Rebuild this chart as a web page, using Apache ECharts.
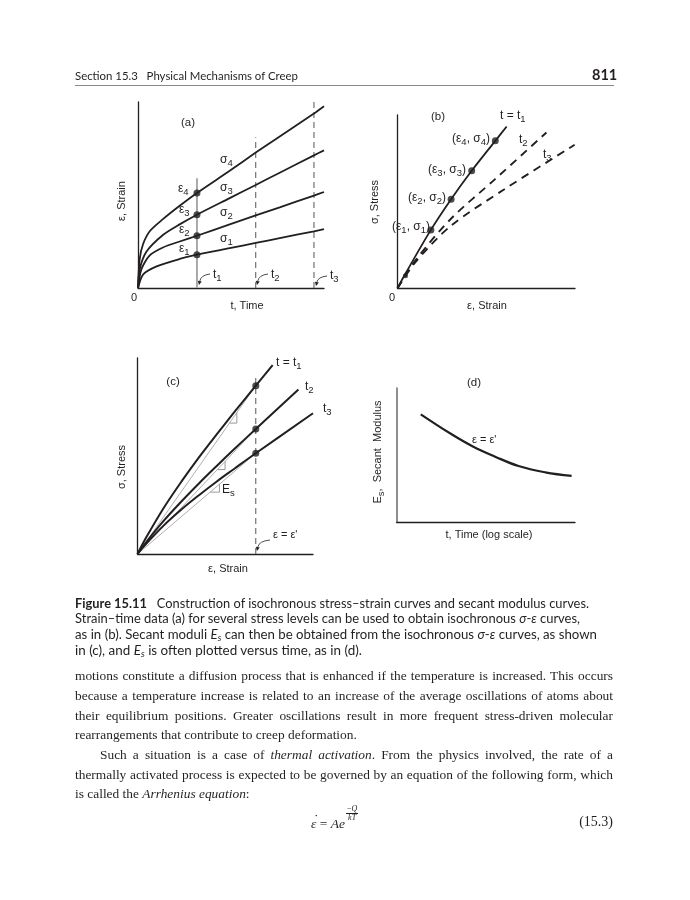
<!DOCTYPE html>
<html>
<head>
<meta charset="utf-8">
<script src="https://cdn.jsdelivr.net/npm/echarts@6/dist/echarts.min.js"></script>
<style>
html,body{margin:0;padding:0;background:#fff;width:690px;height:900px;overflow:hidden}
#chart{position:absolute;left:0;top:0;width:690px;height:900px}
.t{position:absolute;white-space:nowrap;color:#231f20;transform-origin:0 50%}
.sans{font-family:Lato,'Liberation Sans',Arial,sans-serif}
.serif{font-family:'Liberation Serif','Times New Roman',serif}
.cap{font-size:12.5px;line-height:15px}
.body{font-size:13.4px;line-height:18px}
.frac{display:inline-block;vertical-align:8px;font-size:8px;line-height:8px;text-align:center;margin-left:1px}
.frac span{display:block}
.frac .num{border-bottom:0.6px solid #231f20;padding:0 1px}
.edot{position:relative;display:inline-block}
.edot::after{content:'\02D9';position:absolute;left:3px;top:-5px;font-style:normal}
sub{font-size:70%;vertical-align:-2px}
</style>
</head>
<body>
<div id="chart"></div>

<div class="t sans" style="left:75px;top:69px;font-size:11.4px">Section 15.3&nbsp;&nbsp;&nbsp;Physical Mechanisms of Creep</div>
<div class="t sans" style="left:592px;top:66px;font-size:14.5px;font-weight:bold">811</div>
<div style="position:absolute;left:75px;top:85px;width:539px;height:1px;background:#8a8a8a"></div>

<div class="t sans cap fit" data-w="514" style="left:75px;top:596px"><b>Figure 15.11</b>&nbsp;&nbsp;&nbsp;Construction of isochronous stress–strain curves and secant modulus curves.</div>
<div class="t sans cap fit" data-w="505" style="left:75px;top:611px">Strain–time data (a) for several stress levels can be used to obtain isochronous <i>σ</i>-<i>ε</i> curves,</div>
<div class="t sans cap fit" data-w="522" style="left:75px;top:627px">as in (b). Secant moduli <i>E<sub>s</sub></i> can then be obtained from the isochronous <i>σ</i>-<i>ε</i> curves, as shown</div>
<div class="t sans cap fit" data-w="287" style="left:75px;top:643px">in (c), and <i>E<sub>s</sub></i> is often plotted versus time, as in (d).</div>

<div class="t serif body just" data-w="538" style="left:75px;top:667px">motions constitute a diffusion process that is enhanced if the temperature is increased. This occurs</div>
<div class="t serif body just" data-w="538" style="left:75px;top:687px">because a temperature increase is related to an increase of the average oscillations of atoms about</div>
<div class="t serif body just" data-w="538" style="left:75px;top:706.5px">their equilibrium positions. Greater oscillations result in more frequent stress-driven molecular</div>
<div class="t serif body" style="left:75px;top:726px">rearrangements that contribute to creep deformation.</div>
<div class="t serif body just" data-w="513" style="left:100px;top:746px">Such a situation is a case of <i>thermal activation</i>. From the physics involved, the rate of a</div>
<div class="t serif body just" data-w="538" style="left:75px;top:765.5px">thermally activated process is expected to be governed by an equation of the following form, which</div>
<div class="t serif body" style="left:75px;top:785px">is called the <i>Arrhenius equation</i>:</div>

<div class="t serif" style="left:311px;top:805px;font-size:13.5px;line-height:18px"><i class="edot">ε</i> = <i>Ae</i><span class="frac"><span class="num">−<i>Q</i></span><span><i>kT</i></span></span></div>
<div class="t serif" style="left:567px;top:813px;width:46px;text-align:right;font-size:14px;line-height:18px">(15.3)</div>

<script>
// ---------- Panel (a): strain vs time at four stress levels ----------
const timeA_s1   = [0, 0.27, 1.0, 2.24, 3.17, 4.93, 6.33, 7.62, 9.46, 10];
const strainA_s1 = [0, 0.72, 1.16, 1.56, 1.79, 2.14, 2.42, 2.68, 3.05, 3.16];
const timeA_s2   = [0, 0.18, 0.63, 1.34, 2.24, 3.17, 4.93, 6.33, 7.62, 9.46, 10];
const strainA_s2 = [0, 1.0, 1.75, 2.18, 2.5, 2.81, 3.42, 3.9, 4.34, 4.97, 5.16];
const timeA_s3   = [0, 0.09, 0.45, 1.34, 2.24, 3.17, 4.93, 6.33, 7.62, 9.46, 10];
const strainA_s3 = [0, 1.0, 1.95, 2.85, 3.42, 3.94, 4.83, 5.54, 6.2, 7.13, 7.4];
const timeA_s4   = [0, 0.09, 0.27, 0.63, 1.34, 2.24, 3.17, 4.93, 6.33, 7.62, 9.46, 10];
const strainA_s4 = [0, 1.55, 2.35, 3.05, 3.7, 4.42, 5.11, 6.3, 7.28, 8.15, 9.38, 9.77];
const timeMarksA   = [3.17, 6.33, 9.46];          // t1, t2, t3
const timeMarkTopA = [5.9, 8.1, 10];
const strainAtT1   = [1.79, 2.81, 3.94, 5.11];    // eps1..eps4

// ---------- Panel (b): isochronous stress-strain curves ----------
const isoT1_strain = [0, 0.45, 1.88, 3.02, 4.18, 5.51, 6.15];
const isoT1_stress = [0, 0.85, 3.37, 5.14, 6.78, 8.51, 9.34];
const isoT2_strain = [0, 1.0, 3.0, 5.5, 8.39];
const isoT2_stress = [0, 1.6, 4.0, 6.3, 8.99];
const isoT3_strain = [0, 1.0, 3.0, 6.0, 9.98];
const isoT3_stress = [0, 1.5, 3.6, 5.7, 8.28];
const isoPts_strain = [1.88, 3.02, 4.18, 5.51];
const isoPts_stress = [3.37, 5.14, 6.78, 8.51];

// ---------- Panel (c): secant moduli ----------
const secT1_strain = [0, 0.5, 1.5, 2.5, 3.5, 4.5, 5.5, 6.74, 7.7];
const secT1_stress = [0, 0.85, 2.36, 3.69, 4.93, 6.09, 7.22, 8.59, 9.64];
const secT2_strain = [0, 0.5, 1.5, 2.5, 3.5, 4.5, 5.5, 6.74, 9.17];
const secT2_stress = [0, 0.61, 1.70, 2.68, 3.6, 4.48, 5.34, 6.38, 8.39];
const secT3_strain = [0, 0.5, 1.5, 2.5, 3.5, 4.5, 5.5, 6.74, 10];
const secT3_stress = [0, 0.53, 1.46, 2.27, 3.0, 3.69, 4.34, 5.14, 7.18];
const epsPrime = 6.74;
const stressAtEpsPrime = [8.59, 6.38, 5.14];
const epsPrimeTop = 9.05;
const triStart = [5.24, 4.55, 4.14];
const triEnd   = [5.66, 4.99, 4.67];

// ---------- Panel (d): secant modulus vs log time ----------
const modTime = [1.35, 3.08, 4.3, 5.52, 6.83, 8.33, 9.81];
const modEs   = [8.06, 6.57, 5.64, 4.9, 4.2, 3.73, 3.46];

// ---------------------------------------------------------------
const INK = '#231f20';
const GRAY = '#a7a9ac';
const FONT = "'Liberation Sans', Arial, sans-serif";
const pair = (xs, ys) => xs.map((x, i) => [x, ys[i]]);

const grids = [
  {left: 138, top: 102, width: 186, height: 186},
  {left: 397.5, top: 115, width: 177.5, height: 173.3},
  {left: 137.5, top: 358, width: 175.5, height: 196},
  {left: 396.7, top: 388.3, width: 178.3, height: 134}
];
function ax(i, color, w) {
  return {type: 'value', gridIndex: i, min: 0, max: 10, axisLine: {show: true, onZero: false, lineStyle: {color: color || INK, width: w || 1.3}},
    axisTick: {show: false}, axisLabel: {show: false}, splitLine: {show: false}};
}
const xAxis = [ax(0), ax(1), ax(2), ax(3)];
const yAxis = [ax(0), ax(1), ax(2), ax(3, '#8f8f8f', 2)];

const series = [];
function line(i, data, style, extra) {
  series.push(Object.assign({type: 'line', xAxisIndex: i, yAxisIndex: i, data, symbol: 'none', silent: true,
    lineStyle: style, animation: false}, extra || {}));
}
function dots(i, data, size, sym) {
  series.push({type: 'scatter', xAxisIndex: i, yAxisIndex: i, data, symbol: sym || 'circle', symbolSize: size || 7,
    itemStyle: {color: INK}, silent: true, animation: false, z: 5});
}

// (a)
timeMarksA.forEach((t, k) => {
  line(0, [[t, 0], [t, timeMarkTopA[k]]], k === 0 ? {color: GRAY, width: 2} : {color: '#555', width: 1, type: [6, 4]}, {z: 1});
});
[[timeA_s1, strainA_s1], [timeA_s2, strainA_s2], [timeA_s3, strainA_s3], [timeA_s4, strainA_s4]].forEach(([xs, ys]) => {
  line(0, pair(xs, ys), {color: INK, width: 1.8}, {smooth: 0.25, z: 3});
});
dots(0, strainAtT1.map(e => [timeMarksA[0], e]), 7);

// (b)
line(1, pair(isoT1_strain, isoT1_stress), {color: INK, width: 1.8}, {smooth: 0.3, z: 3});
line(1, pair(isoT2_strain, isoT2_stress), {color: INK, width: 1.9, type: [8, 6]}, {smooth: 0.3});
line(1, pair(isoT3_strain, isoT3_stress), {color: INK, width: 1.9, type: [8, 6]}, {smooth: 0.3});
dots(1, pair(isoPts_strain, isoPts_stress), 7);
dots(1, [[0.45, 0.72]], 5);

// (c)
stressAtEpsPrime.forEach((s, k) => {
  line(2, [[0, 0], [epsPrime, s]], {color: '#9a9a9a', width: 0.8}, {z: 1});
  const m = s / epsPrime;
  line(2, [[triStart[k], m * triStart[k]], [triEnd[k], m * triStart[k]], [triEnd[k], m * triEnd[k]]], {color: '#9a9a9a', width: 1}, {z: 1});
});
line(2, [[epsPrime, 0], [epsPrime, epsPrimeTop]], {color: '#555', width: 1, type: [6, 4]}, {z: 1});
[[secT1_strain, secT1_stress], [secT2_strain, secT2_stress], [secT3_strain, secT3_stress]].forEach(([xs, ys]) => {
  line(2, pair(xs, ys), {color: INK, width: 2}, {smooth: 0.35, z: 3});
});
dots(2, stressAtEpsPrime.map(s => [epsPrime, s]), 7);

// (d)
line(3, pair(modTime, modEs), {color: INK, width: 2.2}, {smooth: 0.4, z: 3});

// ---------- text & decorations ----------
const RICH = {
  b: {fontSize: 12, fontFamily: FONT, fill: INK, lineHeight: 17, verticalAlign: 'middle'},
  s: {fontSize: 9.5, fontFamily: FONT, fill: INK, lineHeight: 9, verticalAlign: 'bottom'},
  n: {fontSize: 11, fontFamily: FONT, fill: INK, lineHeight: 17, verticalAlign: 'middle'}
};
const sub = (b, s) => `{b|${b}}{s|${s}}`;
function txt(x, y, text, o) {
  o = o || {};
  return {type: 'text', x, y, rotation: o.rot || 0, silent: true, z: 10,
    style: {text, fill: INK, fontSize: o.size || 11, fontFamily: FONT, align: o.align || 'left', verticalAlign: 'middle', rich: RICH}};
}
function curlyArrow(x1, y1, x2, y2) {
  const cpx = x2 + 2, cpy = y1 + 1;
  const dx = x2 - cpx, dy = y2 - cpy, L = Math.hypot(dx, dy), ux = dx / L, uy = dy / L;
  const s = 4, w = 2;
  const bx = x2 - ux * s, by = y2 - uy * s;
  return [
    {type: 'bezierCurve', silent: true, z: 10, shape: {x1, y1, x2: bx, y2: by, cpx1: cpx, cpy1: cpy}, style: {stroke: INK, lineWidth: 0.8, fill: null}},
    {type: 'polygon', silent: true, z: 10, shape: {points: [[x2, y2], [bx - uy * w, by + ux * w], [bx + uy * w, by - ux * w]]}, style: {fill: INK}}
  ];
}
const graphic = [
  // (a)
  txt(188, 123, '(a)', {align: 'center', size: 11.5}),
  txt(220, 160, sub('σ', '4')), txt(220, 188, sub('σ', '3')), txt(220, 213, sub('σ', '2')), txt(220, 239, sub('σ', '1')),
  txt(178, 189, sub('ε', '4')), txt(179, 210, sub('ε', '3')), txt(179, 230, sub('ε', '2')), txt(179, 249, sub('ε', '1')),
  txt(213, 275, sub('t', '1')), txt(271, 275, sub('t', '2')), txt(330, 276, sub('t', '3')),
  txt(134, 298, '0', {align: 'center'}),
  txt(247, 306, 't, Time', {align: 'center'}),
  txt(122, 201, 'ε, Strain', {align: 'center', rot: Math.PI / 2}),
  ...curlyArrow(210, 274, 199, 285), ...curlyArrow(268, 274, 257, 285), ...curlyArrow(327, 276, 316, 286),
  // (b)
  txt(438, 117, '(b)', {align: 'center', size: 11.5}),
  txt(500, 116, '{b|t = t}{s|1}'),
  txt(519, 140, sub('t', '2')), txt(543, 155, sub('t', '3')),
  txt(490, 139, '{b|(ε}{s|4}{b|, σ}{s|4}{b|)}', {align: 'right'}),
  txt(466, 170, '{b|(ε}{s|3}{b|, σ}{s|3}{b|)}', {align: 'right'}),
  txt(446, 198, '{b|(ε}{s|2}{b|, σ}{s|2}{b|)}', {align: 'right'}),
  txt(430, 227, '{b|(ε}{s|1}{b|, σ}{s|1}{b|)}', {align: 'right'}),
  txt(392, 298, '0', {align: 'center'}),
  txt(487, 306, 'ε, Strain', {align: 'center'}),
  txt(375, 202, 'σ, Stress', {align: 'center', rot: Math.PI / 2}),
  // (c)
  txt(173, 382, '(c)', {align: 'center', size: 11.5}),
  txt(276, 363, '{b|t = t}{s|1}'),
  txt(305, 387, sub('t', '2')), txt(323, 409, sub('t', '3')),
  txt(222, 490, '{b|E}{s|s}'),
  txt(273, 535, "ε = ε'"),
  ...curlyArrow(270, 540, 257, 551),
  txt(228, 569, 'ε, Strain', {align: 'center'}),
  txt(122, 467, 'σ, Stress', {align: 'center', rot: Math.PI / 2}),
  // (d)
  txt(474, 383, '(d)', {align: 'center', size: 11.5}),
  txt(472, 440, "ε = ε'"),
  txt(489, 535, 't, Time (log scale)', {align: 'center'}),
  txt(378, 452, '{n|E}{s|s}{n|,  Secant  Modulus}', {align: 'center', rot: Math.PI / 2})
];

const chart = echarts.init(document.getElementById('chart'), null, {renderer: 'canvas', width: 690, height: 900});
chart.setOption({animation: false, backgroundColor: 'transparent', grid: grids, xAxis, yAxis, series, graphic});

// fit text lines to the page widths
document.querySelectorAll('.fit, .just').forEach(el => {
  const target = +el.dataset.w;
  el.style.display = 'inline-block';
  const w = el.getBoundingClientRect().width;
  if (el.classList.contains('just') && w < target) {
    el.style.width = target + 'px';
    el.style.textAlign = 'justify';
    el.style.textAlignLast = 'justify';
    el.style.whiteSpace = 'normal';
  } else {
    el.style.transform = `scaleX(${target / w})`;
  }
});
</script>
</body>
</html>
